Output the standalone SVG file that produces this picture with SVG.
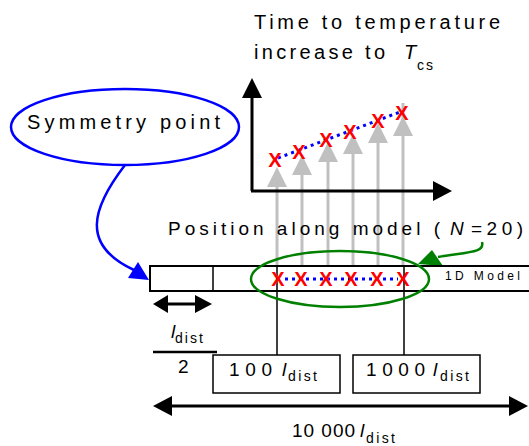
<svg xmlns="http://www.w3.org/2000/svg" width="529" height="446" viewBox="0 0 529 446">
<style>
text{font-family:"Liberation Sans",Arial,sans-serif;fill:#000}
.t{font-size:20px}
.m{font-size:19px}
.s{font-size:14px}
.i{font-style:italic}
.x{font-size:20px;font-weight:bold;fill:#ff0000;text-anchor:middle}
.gl{stroke:#c0c0c0;stroke-width:3;fill:none}
.gh{fill:#c0c0c0}
.bd{stroke:#0000ff;stroke-width:3;stroke-dasharray:3 4;fill:none}
.k{stroke:#000;fill:none}
</style>
<rect width="529" height="446" fill="#fff"/>

<g id="title">
<text class="t" x="254" y="29" textLength="246" lengthAdjust="spacing">Time to temperature</text>
<text class="t" x="254" y="59" textLength="131" lengthAdjust="spacing">increase to</text>
<text class="t i" x="404" y="59">T</text>
<text class="s" x="417" y="70" textLength="16" lengthAdjust="spacing">cs</text>
</g>

<g id="connectors">
<line class="gl" x1="277" y1="266" x2="277" y2="185"/>
<line class="gl" x1="302" y1="266" x2="302" y2="173"/>
<line class="gl" x1="328" y1="266" x2="328" y2="160"/>
<line class="gl" x1="353" y1="266" x2="353" y2="152"/>
<line class="gl" x1="378" y1="266" x2="378" y2="141"/>
<line class="gl" x1="403" y1="266" x2="403" y2="103"/>
<polygon class="gh" points="277,167 267,187 287,187"/>
<polygon class="gh" points="302,155 292,175 312,175"/>
<polygon class="gh" points="328,142 318,162 338,162"/>
<polygon class="gh" points="353,134 343,154 363,154"/>
<polygon class="gh" points="378,123 368,143 388,143"/>
<polygon class="gh" points="403,116 393,136 413,136"/>
<path d="M125,165 C92,208 80,245 134,270" stroke="#0000ff" stroke-width="2.5" fill="none"/>
<polygon points="149,280 128,278 138,262" fill="#0000ff"/>
<path d="M482,242 C485,253 468,252 438,257" stroke="#008000" stroke-width="2.5" fill="none"/>
<polygon points="418,264 432,250 443,266" fill="#008000"/>
<line class="k" x1="277" y1="266" x2="277" y2="355" stroke-width="1.5"/>
<line class="k" x1="404" y1="266" x2="404" y2="355" stroke-width="1.5"/>
</g>

<g id="chart">
<line class="k" x1="252" y1="191" x2="252" y2="96" stroke-width="3"/>
<polygon points="252,78 242,98 262,98"/>
<line class="k" x1="251" y1="191" x2="435" y2="191" stroke-width="3"/>
<polygon points="452,191 433,181 433,201"/>
<path class="bd" d="M278,158 L400,112"/>
<text class="x" x="275" y="167">X</text>
<text class="x" x="299" y="159">X</text>
<text class="x" x="326" y="147">X</text>
<text class="x" x="350" y="139">X</text>
<text class="x" x="378" y="128">X</text>
<text class="x" x="402" y="120">X</text>
</g>

<g id="position-label">
<text class="m" x="168" y="235" textLength="272" lengthAdjust="spacing">Position along model (</text>
<text class="m i" x="450" y="235">N</text>
<text class="m" x="471" y="235" textLength="52" lengthAdjust="spacing">=20)</text>
</g>

<g id="symmetry">
<ellipse cx="125" cy="127" rx="114" ry="38" fill="#fff" stroke="#0000ff" stroke-width="2.5"/>
<text class="t" x="27" y="129" textLength="193" lengthAdjust="spacing">Symmetry point</text>
</g>

<g id="model">
<rect x="150" y="266" width="400" height="25" fill="none" stroke="#000" stroke-width="2"/>
<line class="k" x1="213" y1="266" x2="213" y2="291" stroke-width="1.5"/>
<text x="445" y="280" font-size="12" textLength="75" lengthAdjust="spacing">1D Model</text>
<ellipse cx="340" cy="279" rx="89" ry="28" fill="none" stroke="#008000" stroke-width="2.5"/>
<path class="bd" d="M285,279 L398,279"/>
<text class="x" x="278" y="286">X</text>
<text class="x" x="301" y="286">X</text>
<text class="x" x="326" y="286">X</text>
<text class="x" x="351" y="286">X</text>
<text class="x" x="377" y="286">X</text>
<text class="x" x="403" y="286">X</text>
</g>

<g id="half-dist">
<line class="k" x1="166" y1="304" x2="196" y2="304" stroke-width="3"/>
<polygon points="153,304 168,295 168,313"/>
<polygon points="212,304 195,295 195,313"/>
<text class="m i" x="171" y="338">l</text>
<text class="s" x="175" y="343" textLength="28" lengthAdjust="spacing">dist</text>
<line class="k" x1="153" y1="352" x2="217" y2="352" stroke-width="2.5"/>
<text class="m" x="178" y="373">2</text>
</g>

<g id="box-100">
<rect x="213" y="355" width="127" height="38" fill="#fff" stroke="#000" stroke-width="1.5"/>
<text class="m" x="229" y="376" textLength="43" lengthAdjust="spacing">100</text>
<text class="m i" x="282" y="376">l</text>
<text class="s" x="288" y="381" textLength="29" lengthAdjust="spacing">dist</text>
</g>

<g id="box-1000">
<rect x="353" y="355" width="127" height="38" fill="#fff" stroke="#000" stroke-width="1.5"/>
<text class="m" x="366" y="376" textLength="59" lengthAdjust="spacing">1000</text>
<text class="m i" x="433" y="376">l</text>
<text class="s" x="440" y="381" textLength="29" lengthAdjust="spacing">dist</text>
</g>

<g id="total-length">
<line class="k" x1="170" y1="406" x2="512" y2="406" stroke-width="3"/>
<polygon points="153,406 172,396 172,416"/>
<polygon points="528,406 509,396 509,416"/>
<text class="m" x="292" y="437" textLength="63" lengthAdjust="spacing">10 000</text>
<text class="m i" x="360" y="437">l</text>
<text class="s" x="366" y="443" textLength="29" lengthAdjust="spacing">dist</text>
</g>
</svg>
